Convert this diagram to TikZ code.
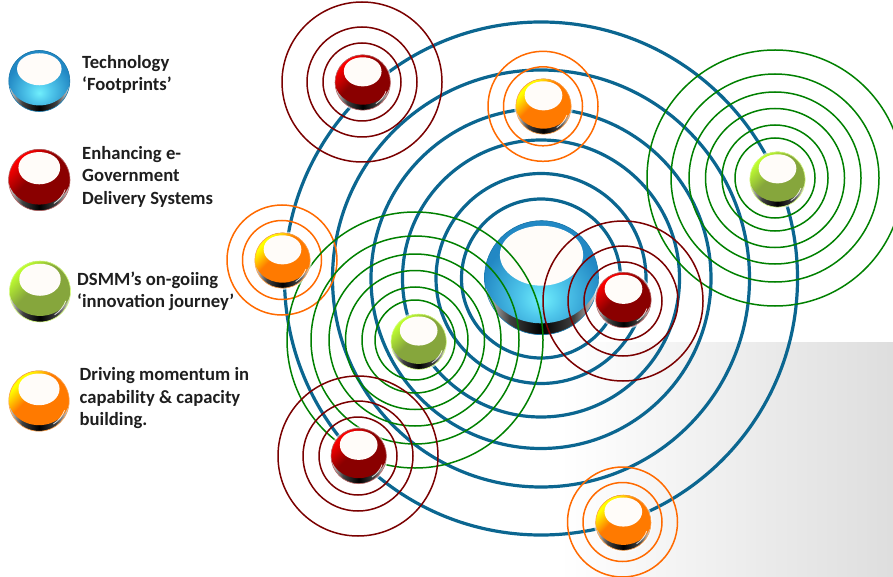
\documentclass[tikz,border=0pt]{standalone}
\usepackage{fontspec}
\setmainfont{Carlito}
\definecolor{ringblue}{HTML}{0B6690}
\definecolor{ringred}{HTML}{7A0000}
\definecolor{ringgreen}{HTML}{008000}
\definecolor{ringorange}{HTML}{FF6A00}
\definecolor{capwhite}{HTML}{FFFCF9}
\definecolor{txt}{HTML}{1E1E1E}
\definecolor{rb}{HTML}{FF0000}\definecolor{rd}{HTML}{8A0000}
\definecolor{ob}{HTML}{FFFF00}\definecolor{od}{HTML}{FF7A00}
\definecolor{gb}{HTML}{BFFF2F}\definecolor{gd}{HTML}{86A63C}
\definecolor{bc}{HTML}{70EEFC}\definecolor{bm}{HTML}{50C8EC}\definecolor{bd}{HTML}{2288C4}
\pgfdeclareverticalshading{redbody}{100bp}{color(0bp)=(rb); color(27bp)=(rb); color(46bp)=(rd); color(100bp)=(rd)}
\pgfdeclareverticalshading{orangebody}{100bp}{color(0bp)=(ob); color(29bp)=(ob); color(44bp)=(od); color(100bp)=(od)}
\pgfdeclareverticalshading{greenbody}{100bp}{color(0bp)=(gb); color(27bp)=(gb); color(46bp)=(gd); color(100bp)=(gd)}
\pgfdeclareradialshading{bluebody}{\pgfpoint{0bp}{-14bp}}{color(0bp)=(bc); color(9bp)=(bm); color(26bp)=(bd); color(100bp)=(bd)}
\pgfdeclarehorizontalshading{crescent}{100bp}{color(0bp)=(white); color(25bp)=(white!70!gray); color(36bp)=(black!75); color(50bp)=(black); color(64bp)=(black!75); color(75bp)=(white!80!gray); color(100bp)=(white)}
\tikzset{
  bluering/.style={draw=ringblue,line width=3.2pt},
  redring/.style={draw=ringred,line width=1.5pt},
  greenring/.style={draw=ringgreen,line width=1.5pt},
  orangering/.style={draw=ringorange,line width=1.5pt},
  lab/.style={font=\fontsize{18.65}{22.5}\selectfont\bfseries,text=txt,align=left,inner sep=0pt,anchor=west}
}
% x, y, r, body shading, shading angle, rim colour, cap half width, gloss opacity
\newcommand{\orb}[8]{%
  \begin{scope}[shift={(#1,#2)},x=#3pt,y=-#3pt]
    \fill[white,opacity=.6] (0,0) circle [radius=1.06];
    \shade[shading=crescent] (0,0) circle [radius=1];
    \begin{scope}
      \clip (0,0) circle [radius=1];
      \shade[shading=#4,shading angle=#5] (0,-.12) ellipse [x radius=1.03,y radius=.92];
      \fill[capwhite] (0,-.91) .. controls (.36,-.91) and (#7,-.72) .. (#7,-.4)
        .. controls (#7,-.1) and (.38,.14) .. (0,.14)
        .. controls (-.38,.14) and (-#7,-.1) .. (-#7,-.4)
        .. controls (-#7,-.72) and (-.36,-.91) .. (0,-.91) -- cycle;
    \end{scope}
    \draw[white,opacity=#8,line width=.8pt] (20:.9) arc [start angle=20,end angle=58,radius=.9];
    \draw[#6,line width=.6pt] (0,0) circle [radius=1];
  \end{scope}}
\newcommand{\rrings}[2]{\foreach \q in {80,55,39} \draw[redring] (#1,#2) circle [radius=\q];}
\newcommand{\orings}[2]{\foreach \q in {55,39.5} \draw[orangering] (#1,#2) circle [radius=\q];}
\newcommand{\grings}[2]{\foreach \q in {128,104,86,69.5,53,40} \draw[greenring] (#1,#2) circle [radius=\q];}
\newcommand{\redorb}[3]{\orb{#1}{#2}{#3}{redbody}{-135}{rd!60!white}{.68}{.8}}
\newcommand{\orgorb}[3]{\orb{#1}{#2}{#3}{orangebody}{-135}{od!70!white}{.68}{.8}}
\newcommand{\grnorb}[3]{\orb{#1}{#2}{#3}{greenbody}{-135}{gb!60!white}{.68}{.8}}
\newcommand{\bluorb}[3]{\orb{#1}{#2}{#3}{bluebody}{0}{ringblue!40!bd}{.73}{0}}
\begin{document}
\begin{tikzpicture}[x=1pt,y=-1pt]
\useasboundingbox (0,0) rectangle (893,577);
\shade[left color=white,right color=black!13] (560,342) rectangle (893,577);
\foreach \q in {256.5,208.5,170,138.5,105,79.5} \draw[bluering] (541,278.5) circle [radius=\q];
\bluorb{541.5}{277.7}{57}
\rrings{362}{82}
\orings{543}{106.3}
\orings{282}{260}
\grings{775}{178}
\grings{415}{340}
\rrings{358}{456}
\rrings{623}{301}
\orings{622.5}{522}
\redorb{362.7}{82.5}{27.7}
\orgorb{543.5}{106.5}{27.7}
\orgorb{282.5}{260.5}{27.7}
\grnorb{777.5}{179.5}{27.7}
\grnorb{418.7}{341.7}{27.7}
\redorb{358.7}{456}{27.7}
\redorb{623.5}{300}{27.7}
\orgorb{623.3}{522.7}{27.7}
\bluorb{39.3}{81}{30.5}
\redorb{39.3}{180}{30.7}
\grnorb{40}{291.5}{30.5}
\orgorb{39}{401}{30.2}
\node[lab] (t1) at (82,74.5) {Technology\\‘Footprints’};
\node[lab] (t2) at (82,176.5) {Enhancing e-\\Government\\Delivery Systems};
\node[lab] (t3) at (77,291.5) {DSMM’s on-goiing\\‘innovation journey’};
\node[lab] (t4) at (79.5,398.5) {Driving momentum in\\capability \& capacity\\building.};
\end{tikzpicture}
\end{document}
